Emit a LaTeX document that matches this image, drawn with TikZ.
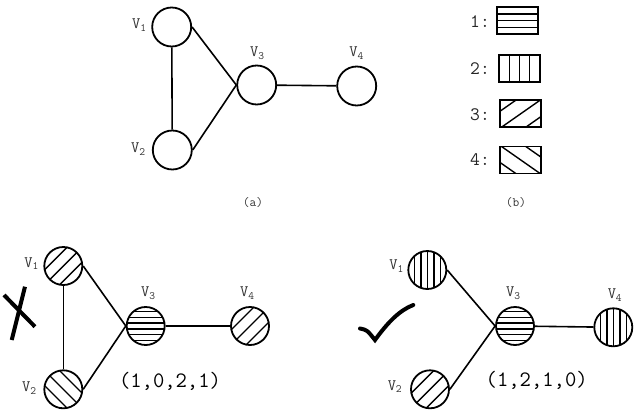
\documentclass[tikz,border=0pt]{standalone}
\usepackage{fontspec}
\usetikzlibrary{calc}

\begin{document}
\begin{tikzpicture}[x=1pt, y=-1pt, font=\ttfamily,
  vtx/.style={draw, circle, line width=1.8pt, minimum size=39pt, inner sep=0pt},
  svtx/.style={vtx, minimum size=38pt},
  edge/.style={line width=1.6pt},
  vlbl/.style={font=\ttfamily\fontsize{16}{16}\selectfont, text=black!80},
  caplbl/.style={font=\ttfamily\fontsize{13}{13}\selectfont, text=black!80},
  keylbl/.style={font=\ttfamily\fontsize{19}{19}\selectfont, text=black!85},
  tuple/.style={font=\ttfamily\fontsize{22}{22}\selectfont},
  keybox/.style={draw, line width=1.8pt, minimum width=41pt, minimum height=27pt, inner sep=0pt},
  verdict/.style={line width=4pt},
  hatchH/.style={path picture={\foreach \k in {-4,...,3}
      \draw[line width=1.4pt] ([yshift=(\k+0.5)*#1 pt]path picture bounding box.west) -- ++(60,0);}},
  hatchH/.default=5.8,
  hatchV/.style={path picture={\foreach \k in {-4,...,4}
      \draw[line width=1.4pt] ([xshift=\k*#1 pt]path picture bounding box.north) -- ++(0,60);}},
  hatchV/.default=6.5,
  hatchR/.style={path picture={\foreach \k in {-1,0,1}
      \draw[line width=1.4pt] ([yshift=\k*#1 pt]path picture bounding box.center) ++(-30,30) -- ++(60,-60);}},
  hatchR/.default=15,
  hatchL/.style={path picture={\foreach \k in {-1,0,1}
      \draw[line width=1.4pt] ([yshift=\k*#1 pt]path picture bounding box.center) ++(-30,-30) -- ++(60,60);}},
  hatchL/.default=15,
  keyH/.style={path picture={\foreach \k in {-1,0,1}
      \draw[line width=1.4pt] ([yshift=\k*6.75pt]path picture bounding box.west) -- ++(60,0);}},
  keyR/.style={path picture={\foreach \k in {-1,0,1}
      \draw[line width=1.4pt] ([yshift=\k*17pt]path picture bounding box.center) ++(-30,21) -- ++(60,-42);}},
  keyL/.style={path picture={\foreach \k in {-1,0,1}
      \draw[line width=1.4pt] ([yshift=\k*17pt]path picture bounding box.center) ++(-30,-21) -- ++(60,42);}}]

\useasboundingbox (0,0) rectangle (637,412);

% ============ (a): the graph ============
\node[vtx] (a1) at (171.7,27) {};
\node[vtx] (a2) at (172.3,150) {};
\node[vtx] (a3) at (256.7,85) {};
\node[vtx] (a4) at (356.7,86) {};

\node[vlbl] at (139.5,25) {V\textsubscript{1}};
\node[vlbl] at (138.5,149) {V\textsubscript{2}};
\node[vlbl] at (257.5,53) {V\textsubscript{3}};
\node[vlbl] at (356.7,53) {V\textsubscript{4}};

\draw[edge] (a1) -- (a2);
\draw[edge] (a1.east) -- (a3.west);
\draw[edge] (a2.east) -- (a3.west);
\draw[edge] (a3) -- (a4);

\node[caplbl] (capa) at (253,203) {(a)};

% ============ (b): the four hatchings ============
\node[keylbl] (k1) at (480,21.7) {1:};
\node[keylbl] (k2) at (480,68.3) {2:};
\node[keylbl] (k3) at (480,115) {3:};
\node[keylbl] (k4) at (480,160) {4:};

\node[keybox, keyH] (b1) at (517.2,20.8) {};
\node[keybox, hatchV=10] (b2) at (519.2,68.7) {};
\node[keybox, keyR] (b3) at (520.8,113.7) {};
\node[keybox, keyL] (b4) at (520.8,160) {};

\node[caplbl] (capb) at (516,203) {(b)};

% ============ bottom left: (1,0,2,1) ============
\node[svtx, hatchR] (l1) at (63.3,266) {};
\node[svtx, hatchL] (l2) at (63.3,389.3) {};
\node[svtx, hatchH] (l3) at (145.7,326) {};
\node[svtx, hatchR] (l4) at (250,326) {};

\node[vlbl] at (31.7,263.5) {V\textsubscript{1}};
\node[vlbl] at (29.5,388.3) {V\textsubscript{2}};
\node[vlbl] at (148.3,293) {V\textsubscript{3}};
\node[vlbl] at (247.3,293.3) {V\textsubscript{4}};

\draw[edge] (l1) -- (l2);
\draw[edge] (l1.east) -- (l3.west);
\draw[edge] (l2.east) -- (l3.west);
\draw[edge] (l3) -- (l4);

\node[tuple] (tl) at (170,381.7) {(1,0,2,1)};

% cross
\draw[verdict] (4,295) -- (35,326.7);
\draw[verdict] (11.7,340) -- (25,286.7);

% ============ bottom right: (1,2,1,0) ============
\node[svtx, hatchV] (r1) at (427.3,270) {};
\node[svtx, hatchR] (r2) at (430,389.3) {};
\node[svtx, hatchH] (r3) at (515,326) {};
\node[svtx, hatchV] (r4) at (613.3,327.3) {};

\node[vlbl] at (396.7,266) {V\textsubscript{1}};
\node[vlbl] at (395,386.7) {V\textsubscript{2}};
\node[vlbl] at (513.3,293.3) {V\textsubscript{3}};
\node[vlbl] at (615,295) {V\textsubscript{4}};

\draw[edge] (r1.east) -- (r3.west);
\draw[edge] (r2.east) -- (r3.west);
\draw[edge] (r3) -- (r4);

\node[tuple] (tr) at (536.7,380) {(1,2,1,0)};

% tick
\draw[verdict, line cap=round] (360,328.5) .. controls (367,330) .. (375,340)
  .. controls (388,322) and (400,310) .. (413.3,305);

\end{tikzpicture}
\end{document}
